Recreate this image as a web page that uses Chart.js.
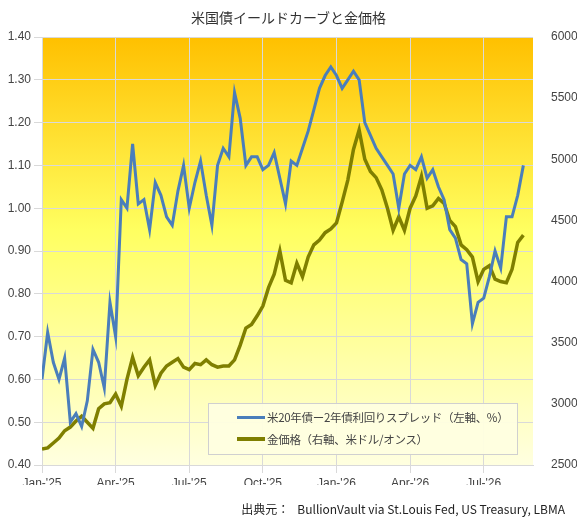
<!DOCTYPE html>
<html><head><meta charset="utf-8">
<script src="https://cdn.jsdelivr.net/npm/chart.js@4"></script>
<style>
body{margin:0;background:#fff;font-family:"Noto Sans CJK JP","DejaVu Sans",sans-serif;}
#wrap{position:relative;width:577px;height:522px;}
#title{position:absolute;top:7px;left:0;width:577px;text-align:center;font-size:14px;color:#333;}
#src{position:absolute;top:500px;right:12px;font-size:12px;color:#222;white-space:nowrap;}
#leg{position:absolute;left:208px;top:403px;width:308px;height:50px;background:rgba(255,255,224,0.95);border:1px solid #d0d0d0;font-size:11.5px;color:#444;white-space:nowrap;letter-spacing:-0.3px;}
.li{position:absolute;left:28px;display:flex;align-items:center;}
.sw{width:28px;height:3px;margin-right:2px;}
</style></head><body>
<div id="wrap">
<canvas id="c" width="577" height="522"></canvas>
<div id="title">米国債イールドカーブと金価格</div>
<div id="leg">
<div class="li" style="top:5px"><span class="sw" style="background:#4A7EBB"></span>米20年債ー2年債利回りスプレッド（左軸、%）</div>
<div class="li" style="top:27px"><span class="sw" style="background:#7F7F00;height:4px"></span>金価格（右軸、米ドル/オンス）</div>
</div>
<div id="src">出典元：&nbsp;&nbsp;&nbsp;BullionVault via St.Louis Fed, US Treasury, LBMA</div>
</div>
<script>
const tickWeeks=[0,13,26,39,52,65,78];
const tickLabels=["Jan-'25","Apr-'25","Jul-'25","Oct-'25","Jan-'26","Apr-'26","Jul-'26"];
const spread=[0.60,0.71,0.64,0.60,0.65,0.50,0.52,0.49,0.55,0.67,0.64,0.58,0.78,0.70,1.02,1.00,1.15,1.01,1.02,0.95,1.06,1.03,0.98,0.96,1.04,1.10,1.00,1.06,1.11,1.03,0.96,1.10,1.14,1.12,1.27,1.21,1.10,1.12,1.12,1.09,1.10,1.13,1.07,1.01,1.11,1.10,1.14,1.18,1.23,1.28,1.31,1.33,1.31,1.28,1.30,1.32,1.30,1.20,1.17,1.14,1.12,1.10,1.08,1.00,1.08,1.10,1.09,1.12,1.07,1.09,1.05,1.02,0.95,0.93,0.88,0.87,0.73,0.78,0.79,0.84,0.90,0.86,0.98,0.98,1.03,1.10];
const gold=[2630,2640,2680,2720,2780,2810,2860,2900,2850,2800,2960,3000,3010,3080,2980,3200,3380,3230,3300,3360,3150,3250,3310,3340,3370,3300,3280,3330,3320,3360,3320,3300,3310,3310,3360,3480,3620,3650,3720,3800,3950,4060,4250,4010,3990,4150,4040,4200,4300,4340,4400,4430,4480,4650,4830,5080,5240,5000,4900,4850,4750,4600,4420,4530,4420,4600,4700,4860,4600,4620,4680,4640,4500,4450,4300,4260,4200,4000,4100,4130,4020,4000,3990,4100,4320,4380];
const bg={id:'bg',beforeDraw(ch){const a=ch.chartArea,c=ch.ctx;const g=c.createLinearGradient(0,a.top,0,a.bottom);
g.addColorStop(0,'#FFC000');g.addColorStop(0.45,'#FFFF60');g.addColorStop(1,'#FFFFE0');c.save();c.fillStyle=g;c.fillRect(a.left,a.top,a.width,a.height);c.restore();}};
new Chart(document.getElementById('c'),{type:'line',
data:{datasets:[
{data:spread.map((v,i)=>({x:i,y:v})),borderColor:'#4A7EBB',borderWidth:3,pointRadius:0,yAxisID:'y',tension:0},
{data:gold.map((v,i)=>({x:i,y:v})),borderColor:'#7F7F00',borderWidth:3.5,pointRadius:0,yAxisID:'y2',tension:0}]},
options:{responsive:false,animation:false,layout:{padding:{top:37,bottom:37,left:0,right:0}},
plugins:{legend:{display:false},tooltip:{enabled:false}},
scales:{
x:{type:'linear',min:0,max:86.7,afterBuildTicks(s){s.ticks=tickWeeks.map(v=>({value:v}));},
 afterFit(s){s.height=20;},grid:{color:'#D9D9D9'},border:{color:'#D9D9D9'},
 ticks:{autoSkip:false,maxRotation:0,color:'#444',font:{size:12,family:'Liberation Sans'},padding:3,callback:(v)=>tickLabels[tickWeeks.indexOf(v)]}},
y:{position:'left',min:0.4,max:1.4,afterFit(s){s.width=42;},grid:{color:'#D9D9D9'},border:{color:'#D9D9D9'},
 ticks:{stepSize:0.1,color:'#444',font:{size:12,family:'Liberation Sans'},callback:v=>v.toFixed(2)}},
y2:{position:'right',min:2500,max:6000,afterFit(s){s.width=44;},grid:{display:false},border:{display:false},
 ticks:{stepSize:500,color:'#444',font:{size:12,family:'Liberation Sans'},padding:10,callback:v=>String(v)}}}},
plugins:[bg]});
</script></body></html>
